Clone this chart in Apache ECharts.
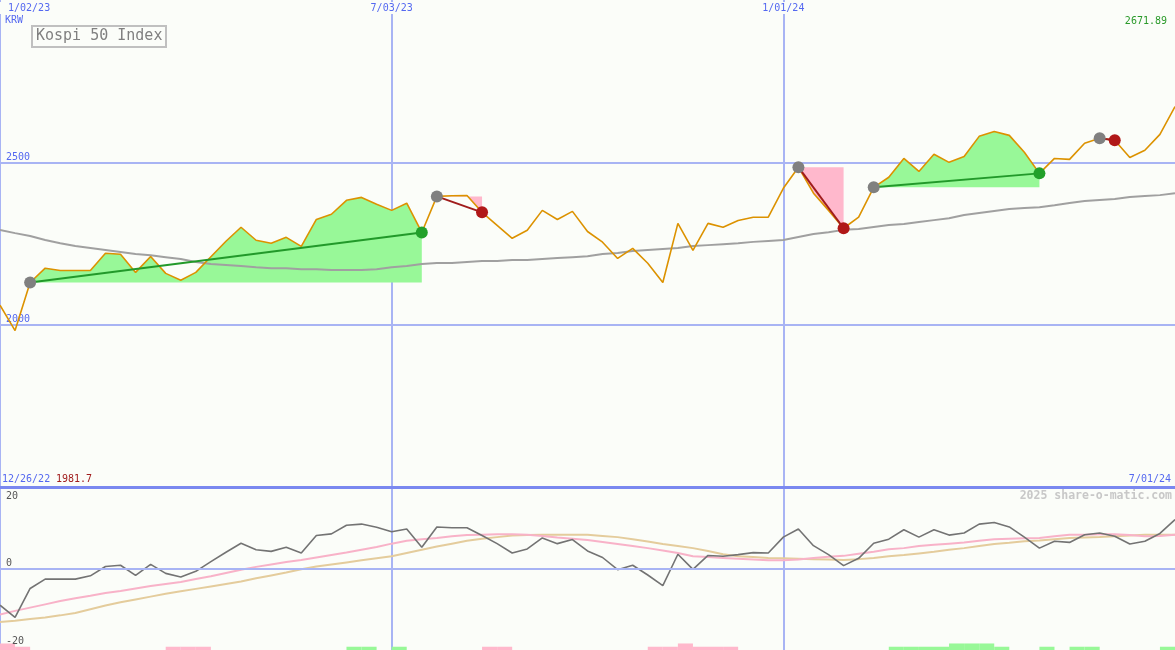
<!DOCTYPE html>
<html>
<head>
<meta charset="utf-8">
<title>Kospi 50 Index</title>
<script src="https://cdn.jsdelivr.net/npm/echarts@6/dist/echarts.min.js"></script>
<style>
  html, body { margin: 0; padding: 0; background: #fbfdf9; }
  #chart { width: 1175px; height: 650px; }
</style>
</head>
<body>
<div id="chart"></div>
<script>
// weekly closes, index 0 = week of 1/02/23
const price = [
  2060, 1981.7, 2130, 2174, 2167, 2167, 2167, 2220, 2217, 2161,
  2210, 2158, 2137, 2161, 2209, 2257, 2300, 2260, 2251, 2269,
  2241, 2324, 2340, 2383, 2392, 2371, 2352, 2374, 2284, 2395,
  2397, 2398, 2346, 2306, 2266, 2291, 2352, 2324, 2349, 2287,
  2254, 2204, 2235, 2189, 2130, 2312, 2229, 2312, 2300, 2321,
  2331, 2331, 2420, 2485, 2405, 2352, 2297, 2331, 2423, 2454,
  2512, 2472, 2525, 2500, 2518, 2580, 2595, 2583, 2531, 2466,
  2512, 2509, 2559, 2574, 2568, 2515, 2537, 2586, 2671.89
]
// long moving average (grey)
const priceAvg = [
  2292, 2282, 2273, 2261, 2251, 2242, 2236, 2230, 2224, 2218,
  2214, 2208, 2202, 2193, 2187, 2184, 2181, 2177, 2174, 2174,
  2171, 2171, 2168, 2168, 2168, 2171, 2177, 2181, 2187, 2190,
  2190, 2193, 2196, 2196, 2199, 2199, 2202, 2205, 2208, 2211,
  2218, 2221, 2227, 2230, 2233, 2236, 2242, 2245, 2248, 2251,
  2255, 2258, 2261, 2270, 2279, 2285, 2292, 2295, 2301, 2307,
  2310, 2316, 2322, 2328, 2338, 2344, 2350, 2356, 2359, 2362,
  2368, 2375, 2381, 2384, 2387, 2393, 2396, 2399, 2405
]
// lower panel
const oscFast = [
  -9.0, -12.0, -4.9, -2.6, -2.6, -2.6, -1.8, 0.5, 0.8, -1.7,
  1.0, -1.2, -2.1, -0.7, 1.7, 4.0, 6.2, 4.6, 4.2, 5.2,
  3.8, 8.1, 8.5, 10.6, 10.9, 10.1, 9.0, 9.7, 5.2, 10.2,
  10.0, 10.0, 8.1, 6.1, 3.8, 4.8, 7.5, 6.1, 7.1, 4.3,
  2.7, -0.3, 0.8, -1.6, -4.2, 3.5, -0.2, 3.2, 3.0, 3.4,
  3.9, 3.8, 7.7, 9.7, 5.6, 3.4, 0.7, 2.5, 6.2, 7.2,
  9.5, 7.7, 9.5, 8.2, 8.7, 10.9, 11.3, 10.2, 7.7, 5.0,
  6.7, 6.4, 8.3, 8.7, 7.9, 6.0, 6.7, 8.6, 12.0
]
const oscMid = [
  -11.3, -10.4, -9.6, -8.8, -8.0, -7.3, -6.7, -6.0, -5.5, -4.9,
  -4.3, -3.8, -3.3, -2.6, -1.9, -1.1, -0.3, 0.4, 1.0, 1.6,
  2.1, 2.7, 3.3, 3.9, 4.6, 5.3, 6.1, 6.8, 7.2, 7.5,
  7.9, 8.2, 8.3, 8.4, 8.4, 8.3, 8.0, 7.6, 7.3, 7.0,
  6.5, 6.0, 5.5, 5.0, 4.4, 3.8, 3.0, 2.8, 2.6, 2.4,
  2.2, 2.0, 2.0, 2.2, 2.6, 2.9, 3.1, 3.6, 4.1, 4.7,
  5.0, 5.5, 5.8, 6.1, 6.4, 6.8, 7.2, 7.3, 7.4, 7.5,
  7.9, 8.3, 8.3, 8.4, 8.4, 8.2, 7.9, 8.0, 8.3
]
const oscSlow = [
  -13.1, -12.8, -12.4, -12.0, -11.5, -10.9, -10.0, -9.1, -8.3, -7.6,
  -6.9, -6.2, -5.6, -5.0, -4.4, -3.8, -3.2, -2.4, -1.7, -1.0,
  -0.2, 0.5, 1.0, 1.5, 2.0, 2.5, 3.0, 3.8, 4.6, 5.4,
  6.1, 6.8, 7.3, 7.7, 8.1, 8.2, 8.3, 8.3, 8.3, 8.3,
  8.0, 7.7, 7.2, 6.6, 6.0, 5.5, 5.0, 4.3, 3.5, 3.0,
  2.8, 2.6, 2.5, 2.4, 2.3, 2.2, 2.1, 2.3, 2.6, 3.0,
  3.3, 3.7, 4.1, 4.6, 5.0, 5.5, 6.0, 6.3, 6.7, 6.9,
  7.2, 7.5, 7.6, 7.7, 7.9, 8.1, 8.3, 8.3, 8.3
]
// trades: [entry week, exit week]
const trades = [[2, 28], [29, 32], [53, 56], [58, 69], [73, 74]]
// bottom strip: [week, level], positive green, negative pink
const signals = [
  [0, -2], [1, -1], [11, -1], [12, -1], [13, -1], [23, 1], [24, 1], [26, 1],
  [32, -1], [33, -1], [43, -1], [44, -1], [45, -2], [46, -1], [47, -1], [48, -1],
  [59, 1], [60, 1], [61, 1], [62, 1], [63, 2], [64, 2], [65, 2], [66, 1],
  [69, 1], [71, 1], [72, 1], [77, 1]
]
const tickWeeks = [0, 26, 52, 78]
const tickLabels = ['1/02/23', '7/03/23', '1/01/24', '7/01/24']
const firstDate = '12/26/22'

const BG = '#fbfdf9'
const BLUE = '#5468f0'
const GRIDLINE = '#a8b4f4'
const GREEN_FILL = '#98f898'
const PINK_FILL = '#ffb8cc'
const MONO = 'DejaVu Sans Mono'

const xy = arr => arr.map((v, i) => [i, v])

const myChart = echarts.init(document.getElementById('chart'))

const tradeSeries = trades.map(([a, b]) => {
  const win = price[b] > price[a]
  return {
    type: 'line',
    xAxisIndex: 0,
    yAxisIndex: 0,
    z: 4,
    symbol: 'circle',
    symbolSize: 12,
    lineStyle: { color: win ? '#22992a' : '#a01c1c', width: 2 },
    data: [
      { value: [a, price[a]], itemStyle: { color: '#808080' } },
      { value: [b, price[b]], itemStyle: { color: win ? '#22a02a' : '#b01818' } }
    ]
  }
})

const lowLabel = { fontFamily: MONO, fontSize: 10, color: '#555' }

myChart.setOption({
  backgroundColor: BG,
  animation: false,
  title: {
    text: 'Kospi 50 Index',
    left: 32,
    top: 26,
    padding: [3, 4],
    borderColor: '#c0c0c0',
    borderWidth: 2,
    textStyle: { fontFamily: MONO, fontSize: 15, fontWeight: 'normal', color: '#808080' }
  },
  grid: [
    { left: 0, right: 0, top: 0, height: 487, containLabel: false, outerBoundsMode: 'none' },
    { left: 0, right: 0, top: 487, bottom: 0, containLabel: false, outerBoundsMode: 'none' }
  ],
  xAxis: [
    {
      type: 'value', gridIndex: 0, position: 'top', min: 0, max: 78, interval: 26,
      axisLine: { show: false }, axisTick: { show: false },
      splitLine: { show: true, showMaxLine: false, lineStyle: { color: GRIDLINE, width: 2 } },
      axisLabel: {
        inside: true, margin: 2, showMaxLabel: false, alignMinLabel: 'left',
        fontFamily: MONO, fontSize: 10, color: BLUE,
        backgroundColor: BG, padding: [1, 2],
        formatter: v => (v === 0 ? ' ' : '') + tickLabels[tickWeeks.indexOf(v)]
      }
    },
    {
      type: 'value', gridIndex: 1, position: 'top', min: 0, max: 78, interval: 26,
      axisLine: { show: true, onZero: false, lineStyle: { color: '#7a88f0', width: 3 } },
      axisTick: { show: false }, axisLabel: { show: false },
      splitLine: { show: true, showMaxLine: false, lineStyle: { color: GRIDLINE, width: 2 } }
    }
  ],
  yAxis: [
    {
      type: 'value', gridIndex: 0, min: 1500, max: 3000, interval: 500,
      axisLine: { show: false }, axisTick: { show: false },
      splitLine: { show: true, showMinLine: false, showMaxLine: false, lineStyle: { color: GRIDLINE, width: 2 } },
      axisLabel: {
        inside: true, margin: 6, showMinLabel: false, showMaxLabel: false,
        verticalAlign: 'bottom', fontFamily: MONO, fontSize: 10, color: BLUE,
        formatter: v => String(v)
      }
    },
    {
      type: 'value', gridIndex: 1, min: -20, max: 20, interval: 20, z: 5,
      axisLine: { show: false }, axisTick: { show: false },
      splitLine: { show: true, showMinLine: false, showMaxLine: false, lineStyle: { color: GRIDLINE, width: 2 } },
      axisLabel: {
        inside: true, margin: 6, verticalAlign: 'bottom', verticalAlignMaxLabel: 'top',
        fontFamily: MONO, fontSize: 10, color: '#555',
        formatter: v => v > 0 ? '{hi|' + v + '}' : v < 0 ? '{lo|' + v + '}' : '{mid|' + v + '}',
        rich: {
          hi: Object.assign({ padding: [4, 0, 0, 0] }, lowLabel),
          mid: Object.assign({ padding: [0, 0, 0, 0] }, lowLabel),
          lo: Object.assign({ padding: [0, 0, 4, 0] }, lowLabel)
        }
      }
    },
    {
      type: 'value', gridIndex: 1, min: 0, max: 50, show: false
    }
  ],
  graphic: [
    { type: 'text', x: 5, y: 20, style: { text: 'KRW', fill: BLUE, font: '10px ' + MONO, verticalAlign: 'middle' } },
    { type: 'text', x: 1167, y: 21, style: { text: String(price[price.length - 1]), fill: '#2a9a2a', font: '10px ' + MONO, align: 'right', verticalAlign: 'middle' } },
    { type: 'text', x: 2, y: 479, style: { text: firstDate, fill: BLUE, font: '10px ' + MONO, verticalAlign: 'middle' } },
    { type: 'text', x: 56, y: 479, style: { text: String(Math.min(...price)), fill: '#a01c1c', font: '10px ' + MONO, verticalAlign: 'middle' } },
    { type: 'text', x: 1171, y: 479, style: { text: tickLabels[3], fill: BLUE, font: '10px ' + MONO, align: 'right', verticalAlign: 'middle' } },
    { type: 'text', x: 1172, y: 496, style: { text: '2025 share-o-matic.com', fill: '#c8c8c8', font: 'bold 11.5px ' + MONO, align: 'right', verticalAlign: 'middle' } }
  ],
  series: [
    {
      // trade fills between price and entry level
      type: 'custom',
      xAxisIndex: 0,
      yAxisIndex: 0,
      z: 1,
      silent: true,
      data: trades.map(t => [t[0], price[t[0]], t[1]]),
      renderItem(params, api) {
        const a = api.value(0)
        const b = api.value(2)
        const base = price[a]
        const pts = []
        for (let i = a; i <= b; i++) pts.push(api.coord([i, price[i]]))
        pts.push(api.coord([b, base]))
        pts.push(api.coord([a, base]))
        return {
          type: 'polygon',
          shape: { points: pts },
          style: { fill: price[b] > base ? GREEN_FILL : PINK_FILL }
        }
      }
    },
    {
      type: 'line', xAxisIndex: 0, yAxisIndex: 0, z: 2,
      data: xy(priceAvg), showSymbol: false,
      lineStyle: { color: '#a0a0a0', width: 2 }
    },
    {
      type: 'line', xAxisIndex: 0, yAxisIndex: 0, z: 3,
      data: xy(price), showSymbol: false,
      lineStyle: { color: '#dc9200', width: 1.6 }
    },
    ...tradeSeries,
    {
      type: 'line', xAxisIndex: 1, yAxisIndex: 1, z: 2,
      data: xy(oscSlow), showSymbol: false,
      lineStyle: { color: '#e4cc9c', width: 2 }
    },
    {
      type: 'line', xAxisIndex: 1, yAxisIndex: 1, z: 2,
      data: xy(oscMid), showSymbol: false,
      lineStyle: { color: '#f8b2c8', width: 2 }
    },
    {
      type: 'line', xAxisIndex: 1, yAxisIndex: 1, z: 3,
      data: xy(oscFast), showSymbol: false,
      lineStyle: { color: '#737373', width: 1.6 }
    },
    {
      type: 'custom',
      xAxisIndex: 1,
      yAxisIndex: 2,
      silent: true,
      data: signals,
      renderItem(params, api) {
        const i = api.value(0)
        const lv = api.value(1)
        const p0 = api.coord([i, Math.abs(lv)])
        const p1 = api.coord([i + 1, 0])
        return {
          type: 'rect',
          shape: { x: p0[0], y: p0[1], width: p1[0] - p0[0], height: p1[1] - p0[1] },
          style: { fill: lv > 0 ? GREEN_FILL : PINK_FILL }
        }
      }
    }
  ]
})
</script>
</body>
</html>
